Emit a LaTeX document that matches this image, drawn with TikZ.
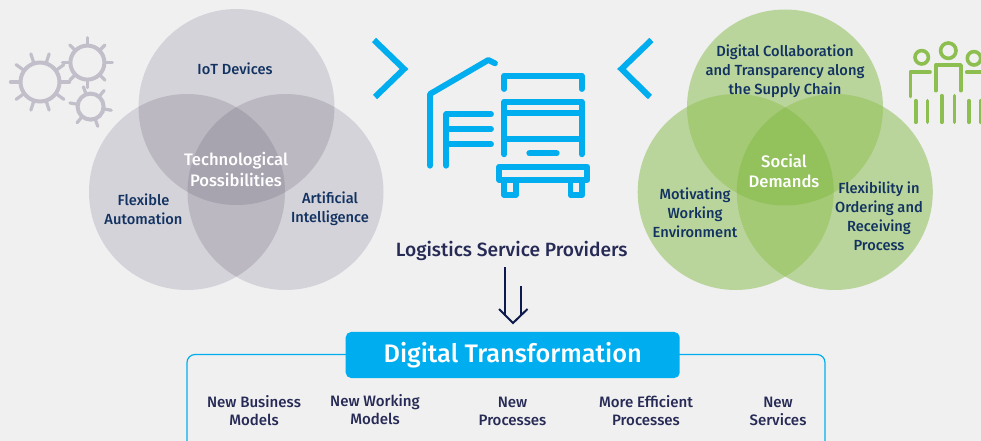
\documentclass[tikz,border=0pt]{standalone}
\usepackage{fontspec}
\setmainfont{Fira Sans}[UprightFont=* Medium]
\usepackage{tikz}
\usetikzlibrary{calc}
\definecolor{pagebg}{HTML}{F0F0F0}
\definecolor{skyblue}{HTML}{00AEEF}
\definecolor{navytext}{HTML}{123361}
\definecolor{inktext}{HTML}{262A55}
\definecolor{arrowink}{HTML}{0E1A4B}
\definecolor{greyone}{HTML}{D5D3DA}
\definecolor{greytwo}{HTML}{BBB8C1}
\definecolor{greythree}{HTML}{A7A3AF}
\definecolor{greengear}{HTML}{8DBE50}
\definecolor{greenone}{HTML}{BAD59C}
\definecolor{greentwo}{HTML}{A4CA75}
\definecolor{greenthree}{HTML}{93C15C}
\definecolor{geargrey}{HTML}{C2BFCA}
\tikzset{
  venntext/.style={text=navytext, align=center, font=\fontsize{11}{14.2}\selectfont},
  centertext/.style={text=white, align=center, font=\fontsize{12.5}{15.6}\selectfont},
  resulttext/.style={text=inktext, align=center, font=\fontsize{11.3}{13.6}\selectfont},
  icon/.style={draw=skyblue, line width=4.4pt, line join=round, line cap=round},
  people/.style={draw=greengear, line width=2.7pt, line cap=round, line join=round},
  cog/.style={draw=geargrey, line width=3pt},
  cogtooth/.style={draw=geargrey, line width=2.4pt, line cap=round},
  chevron/.style={draw=skyblue, line width=4.5pt},
  arrowline/.style={draw=arrowink, line width=1.5pt, line join=miter},
}
\newcommand{\venn}[6]{
  \fill[#4] (#1) circle (98);
  \fill[#4] (#2) circle (98);
  \fill[#4] (#3) circle (98);
  \begin{scope} \clip (#1) circle (98); \fill[#5] (#2) circle (98); \fill[#5] (#3) circle (98); \end{scope}
  \begin{scope} \clip (#2) circle (98); \fill[#5] (#3) circle (98); \end{scope}
  \begin{scope} \clip (#1) circle (98); \clip (#2) circle (98); \fill[#6] (#3) circle (98); \end{scope}
}
\newcommand{\gearwheel}[5]{
  \foreach \i in {1,...,#4} {
    \draw[cogtooth] ($(#1)+({#5+360*\i/#4}:#2)$) -- ($(#1)+({#5+360*\i/#4}:#3)$);
  }
  \draw[cog] (#1) circle (#2);
}
\begin{document}
\begin{tikzpicture}[x=0.75pt,y=-0.75pt]
  \fill[pagebg] (0,0) rectangle (981,441);
  \useasboundingbox (0,0) rectangle (981,441);

  \venn{236.5,107}{187,192}{285.5,192}{greyone}{greytwo}{greythree}
  \venn{785,107.5}{735.7,192}{834.8,192}{greenone}{greentwo}{greenthree}

  \node[venntext] (iot) at (235,68.5) {IoT Devices};
  \node[venntext] (flexauto) at (143.5,209) {Flexible\\Automation};
  \node[venntext] (artificial) at (330,209) {Artificial\\Intelligence};
  \node[centertext] (techposs) at (236,169.5) {Technological\\Possibilities};

  \node[venntext] (digicollab) at (785,71) {Digital Collaboration\\and Transparency along\\the Supply Chain};
  \node[venntext] (motivating) at (695,212.5) {Motivating\\Working\\Environment};
  \node[venntext] (flexorder) at (879,216.5) {Flexibility in\\Ordering and\\Receiving\\Process};
  \node[centertext] (social) at (784,171) {Social\\Demands};

  \gearwheel{40,82}{19.5}{29.5}{10}{0}
  \gearwheel{87.4,62.6}{17}{25}{8}{0}
  \gearwheel{90.6,106.6}{13}{21}{6}{10}

  \draw[chevron] (374,40) -- (404,69) -- (375,97);
  \draw[chevron] (651.5,40) -- (621.5,69) -- (650,97);

  \draw[icon] (430,165.7) -- (430,94) -- (488.3,60) -- (495,63.3);
  \draw[icon] (446.3,165.7) -- (446.3,114.3) -- (491,114.3);
  \draw[icon] (446.3,129) -- (491,129);
  \draw[icon] (446.3,144.3) -- (491,144.3);
  \draw[icon] (504.3,89) -- (504.3,75.7) -- (581.7,75.7) -- (581.7,89);
  \draw[icon] (504.3,154.3) -- (504.3,101.7) -- (581.7,101.7) -- (581.7,154.3);
  \draw[icon] (504.3,113.3) -- (581.7,113.3);
  \draw[icon] (504.3,139.3) -- (581.7,139.3);
  \draw[icon] (529.3,153.3) -- (556.7,153.3);
  \draw[icon] (499.3,166.7) rectangle (587.3,180);
  \draw[icon] (504.3,180) -- (504.3,195) -- (515.7,195) -- (515.7,180);
  \draw[icon] (570.5,180) -- (570.5,195) -- (582.3,195) -- (582.3,180);

  \draw[people] (921.7,57.3) circle (6.7);
  \draw[people] (948.3,50.7) circle (7.7);
  \draw[people] (974,58.3) circle (6.7);
  \draw[people] (930,72.3) -- (910.3,72.3) -- (910.3,96.7);
  \draw[people] (935.7,90.7) -- (935.7,65) -- (961,65) -- (961,90.7);
  \draw[people] (966.7,72.3) -- (985,72.3);
  \foreach \legx in {915.7,927.3,969,981} {
    \draw[people] (\legx,100.7) -- (\legx,122.3);
  }
  \foreach \legx in {941.7,954.3} {
    \draw[people] (\legx,95.7) -- (\legx,122.3);
  }

  \node[text=inktext, font=\fontsize{14.4}{16}\selectfont] (providers) at (511.7,250.5) {Logistics Service Providers};

  \coordinate (longstart) at (505,267.5);
  \coordinate (longend) at (505,316);
  \coordinate (shortstart) at (520.7,286);
  \coordinate (shortend) at (520.7,316);
  \coordinate (wingleft) at (499,309);
  \coordinate (wingright) at (527.5,309);
  \coordinate (arrowtip) at (513,323);
  \draw[arrowline] (longstart) -- (longend);
  \draw[arrowline] (shortstart) -- (shortend);
  \draw[arrowline] (wingleft) -- (arrowtip) -- (wingright);

  \draw[skyblue, line width=0.9pt, rounded corners=6pt] (187,445) -- (187,354.5) -- (825,354.5) -- (825,445);
  \node[fill=skyblue, text=white, rounded corners=4pt, minimum width=250.5pt, minimum height=34.5pt, inner sep=0pt, font=\fontsize{19}{22}\selectfont] (digital) at (512.7,355) {Digital Transformation};

  \node[resulttext] (business) at (254,411) {New Business\\Models};
  \node[resulttext] (working) at (375,410) {New Working\\Models};
  \node[resulttext] (processes) at (512.5,411) {New\\Processes};
  \node[resulttext] (efficient) at (646,411) {More Efficient\\Processes};
  \node[resulttext] (services) at (778,411) {New\\Services};
\end{tikzpicture}
\end{document}
